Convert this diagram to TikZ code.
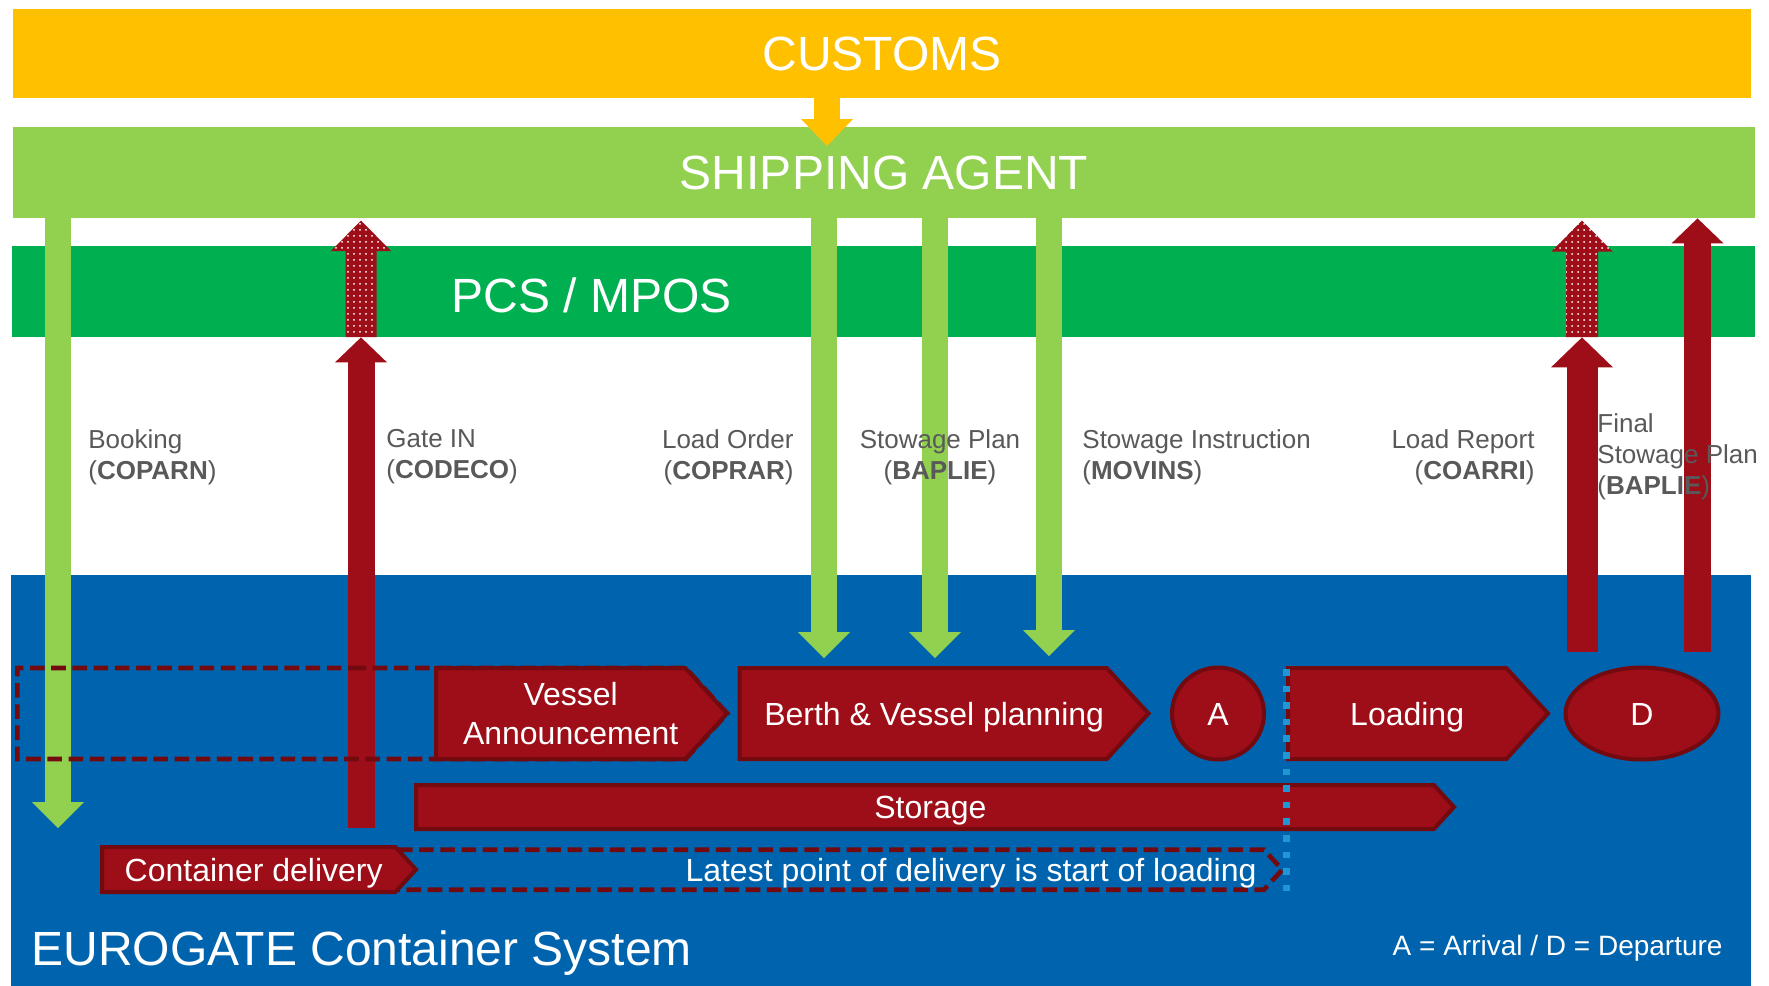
\documentclass[tikz,border=0pt]{standalone}
\usepackage{fontspec}
\setmainfont{Liberation Sans}
\usetikzlibrary{arrows.meta,shapes.symbols,shapes.geometric,patterns}

\definecolor{custcol}{HTML}{FFC000}
\definecolor{agentcol}{HTML}{92D050}
\definecolor{pcscol}{HTML}{00B050}
\definecolor{egblue}{HTML}{0063AD}
\definecolor{egred}{HTML}{9D0E18}
\definecolor{egdark}{HTML}{720A10}
\definecolor{msggray}{HTML}{595959}
\definecolor{skyblue}{HTML}{2196D5}

\begin{document}
\begin{tikzpicture}[x=0.5pt,y=-0.5pt,
  lanebar/.style={rectangle,inner sep=0,text=white,font=\fontsize{24}{28}\selectfont},
  msgtext/.style={inner sep=0,text=msggray,font=\fontsize{13}{15.5}\selectfont},
  downmsg/.style={draw=agentcol,line width=13.25pt,-{Triangle[width=26pt,length=13pt,line width=0pt]}},
  upmsg/.style={draw=egred,line width=13.5pt,-{Triangle[width=26pt,length=12.5pt,line width=0pt]}},
  dotmsg/.style={preaction={fill=egred},pattern=dots,pattern color=white},
  phasebox/.style={signal,signal to=east,signal pointer angle=95,fill=egred,draw=egdark,line width=2pt,
    text=white,inner sep=0,font=\fontsize{16}{19.75}\selectfont,anchor=west},
  oneline/.style={text height=11.5pt,text depth=0pt},
  eventbox/.style={fill=egred,draw=egdark,line width=2pt,text=white,inner sep=0,font=\fontsize{16}{19.75}\selectfont,oneline},
  windowbox/.style={signal,signal to=east,signal pointer angle=95,draw=egdark,line width=2.3pt,
    dash pattern=on 7.3pt off 3.3pt,anchor=west}
]
\useasboundingbox (0,0) rectangle (1769,986);
\fill[white] (0,0) rectangle (1769,986);

% lanes
\node[lanebar,fill=custcol,minimum width=869pt,minimum height=44.5pt] (customs) at (882,53.5) {CUSTOMS};
\node[lanebar,fill=agentcol,minimum width=871pt,minimum height=45.5pt] (agent) at (884,172.5) {SHIPPING AGENT};
\node[lanebar,fill=pcscol,minimum width=871.5pt,minimum height=45.5pt] (pcs) at (883.5,291.5) {};
\node[lanebar] (pcstext) at (592,295) {PCS / MPOS};
\node[rectangle,fill=egblue,inner sep=0,minimum width=870pt,minimum height=205.5pt] (terminal) at (881,780.5) {};

% messages
\coordinate (custtip) at (827,146);
\draw[draw=custcol,line width=13pt,-{Triangle[width=26pt,length=13.5pt,line width=0pt]}] (customs.south -| custtip) -- (custtip);

\coordinate (bookend) at (58,828);
\coordinate (orderend) at (824,658);
\coordinate (planend) at (935,658);
\coordinate (movend) at (1049,656);
\draw[downmsg] (agent.south -| bookend) -- (bookend);
\draw[downmsg] (agent.south -| orderend) -- (orderend);
\draw[downmsg] (agent.south -| planend) -- (planend);
\draw[downmsg] (agent.south -| movend) -- (movend);

\coordinate (gatefoot) at (361,828);
\coordinate (reportfoot) at (1582,652);
\coordinate (finalfoot) at (1697.5,652);
\draw[upmsg] (gatefoot) -- (gatefoot |- pcs.south);
\draw[upmsg,line width=15.5pt,-{Triangle[width=31pt,length=15pt,line width=0pt]}] (reportfoot) -- (reportfoot |- pcs.south);
\draw[upmsg] (finalfoot) -- (finalfoot |- agent.south);

% forwarded by the PCS
\fill[dotmsg] (345.5,337) -- (345.5,251) -- (331,251) -- (361,220.5) -- (391,251) -- (376.5,251) -- (376.5,337) -- cycle;
\fill[dotmsg] (1566,337) -- (1566,251.5) -- (1551.5,251.5) -- (1582,220.5) -- (1612.5,251.5) -- (1598,251.5) -- (1598,337) -- cycle;

\node[msgtext,anchor=north west,align=left] (booking) at (88,429) {Booking\\(\textbf{COPARN})};
\node[msgtext,anchor=north west,align=left] (gatein) at (386,429) {Gate IN\\(\textbf{CODECO})};
\node[msgtext,anchor=north east,align=right] (loadorder) at (794,429) {Load Order\\(\textbf{COPRAR})};
\node[msgtext,anchor=north,align=center] (stowplan) at (940,429) {Stowage Plan\\(\textbf{BAPLIE})};
\node[msgtext,anchor=north west,align=left] (movins) at (1082,429) {Stowage Instruction\\(\textbf{MOVINS})};
\node[msgtext,anchor=north east,align=right] (loadreport) at (1535,429) {Load Report\\(\textbf{COARRI})};
\node[msgtext,anchor=north west,align=left] (finalplan) at (1597,413) {Final\\Stowage Plan\\(\textbf{BAPLIE})};

% terminal process
\node[windowbox,minimum width=355pt,minimum height=45.5pt] (announcewin) at (15,713.5) {};
\node[phasebox,minimum width=145.5pt,minimum height=45.5pt,align=center] (announce) at (434,713.5) {\hspace*{10pt}Vessel\\\hspace*{10pt}Announcement};
\node[phasebox,oneline,minimum width=204.5pt,minimum height=45.5pt] (berth) at (737.5,713.5) {\hspace*{11pt}Berth \& Vessel planning};
\node[eventbox,circle,minimum size=46pt] (arrival) at (1218,713.5) {A};
\node[phasebox,oneline,minimum width=130pt,minimum height=45.5pt] (loading) at (1286,713.5) {\hspace*{10pt}Loading};
\node[eventbox,ellipse,minimum width=76.5pt,minimum height=46pt] (departure) at (1642,713.5) {D};
\node[phasebox,oneline,minimum width=519pt,minimum height=22pt] (storage) at (414,807) {\hspace*{5.5pt}Storage};
\node[windowbox,minimum width=490pt,minimum height=20pt] (latestwin) at (300,869.7) {};
\node[phasebox,oneline,minimum width=157pt,minimum height=22.5pt] (delivery) at (100,869.5) {\hspace*{5pt}Container delivery};
\node[inner sep=0,text=white,font=\fontsize{16}{19.75}\selectfont,oneline] (latest) at (971,870) {Latest point of delivery is start of loading};
\draw[skyblue,line width=3.5pt,dash pattern=on 3.3pt off 5pt] (1286,669) -- (1286,900);

\node[anchor=base west,inner sep=0,text=white,font=\fontsize{24}{28}\selectfont] (system) at (31,965) {EUROGATE Container System};
\node[anchor=base east,inner sep=0,text=white,font=\fontsize{14}{16}\selectfont] (legend) at (1723,955) {A = Arrival / D = Departure};
\end{tikzpicture}
\end{document}
